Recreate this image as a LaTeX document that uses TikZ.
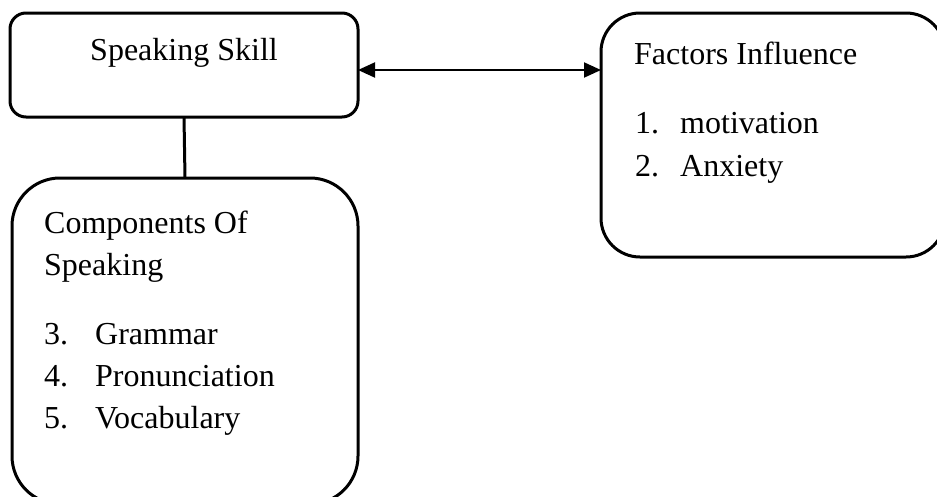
\documentclass[tikz,border=0pt]{standalone}
\usepackage{fontspec}
\setmainfont{Liberation Serif}
\usetikzlibrary{arrows.meta}
\begin{document}
\begin{tikzpicture}[x=1pt,y=-1pt,
  box/.style={draw=black, line width=3pt, inner sep=0pt, outer sep=0pt},
  txt/.style={anchor=base west, inner sep=0pt, font=\fontsize{32}{40}\selectfont},
  conn/.style={draw=black, line width=2pt}]
\useasboundingbox (0,0) rectangle (937,496);
% boxes
\node[box, minimum width=348pt, minimum height=104pt, rounded corners=16pt] (b1) at (184,65) {};
\node[box, minimum width=344pt, minimum height=244pt, rounded corners=39pt] (b2) at (773,135) {};
\node[box, minimum width=346pt, minimum height=326pt, rounded corners=48pt] (b3) at (185,341) {};
% texts
\node[txt, anchor=base] (t1) at (184,60) {Speaking Skill};
\node[txt] (t2) at (634,64) {Factors Influence};
\node[txt] (n1) at (635,133) {1.};
\node[txt] (i1) at (680,133) {motivation};
\node[txt] (n2) at (635,176) {2.};
\node[txt] (i2) at (680,176) {Anxiety};
\node[txt] (t3) at (44,233) {Components Of};
\node[txt] (t4) at (44,275) {Speaking};
\node[txt] (n3) at (44,344) {3.};
\node[txt] (i3) at (95,344) {Grammar};
\node[txt] (n4) at (44,386) {4.};
\node[txt] (i4) at (95,386) {Pronunciation};
\node[txt] (n5) at (44,428) {5.};
\node[txt] (i5) at (95,428) {Vocabulary};
% connectors
\draw[conn, {Triangle[length=17pt,width=15pt]}-{Triangle[length=17pt,width=15pt]}] (b1.east |- 0,70) -- (b2.west |- 0,70);
\draw[box] (b1.south) -- (b3.north);
\end{tikzpicture}
\end{document}
